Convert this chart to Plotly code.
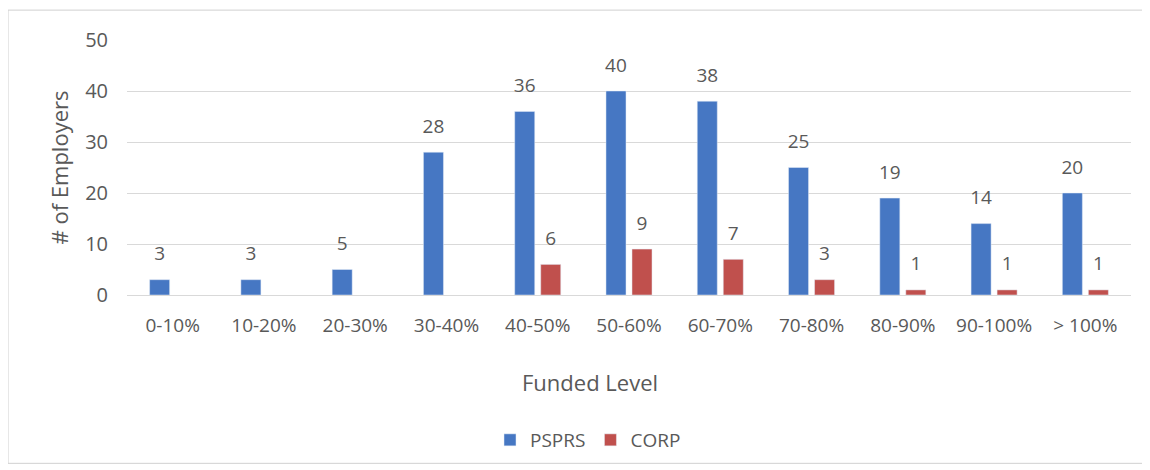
import plotly.graph_objects as go

categories = ["0-10%", "10-20%", "20-30%", "30-40%", "40-50%", "50-60%",
              "60-70%", "70-80%", "80-90%", "90-100%", "> 100%"]
psprs = [3, 3, 5, 28, 36, 40, 38, 25, 19, 14, 20]
corp = [None, None, None, None, 6, 9, 7, 3, 1, 1, 1]

FONT = "Open Sans"
GRAY = "#595959"
BLUE = "#4677C3"
RED = "#C0504D"

# page has an 8px body margin; figure is placed at (8, 8)
OFF = 8
W, H = 1150 - OFF, 470 - OFF
PL, PR, PT, PB = 127, 1131, 40, 296          # plot area in page pixels
L, R, T, B = PL - OFF, W - (PR - OFF), PT - OFF, H - (PB - OFF)
pw, ph = W - L - R, H - T - B


def px_x(x):
    return (x - OFF - L) / pw


def px_y(y):
    return (PB - y) / ph


BARGAP = 0.43

fig = go.Figure()
fig.add_trace(go.Bar(x=categories, y=psprs, name="PSPRS", marker_color=BLUE,
                     offsetgroup="a", hoverinfo="x+y"))
fig.add_trace(go.Bar(x=categories, y=corp, name="CORP", marker_color=RED,
                     offsetgroup="b", hoverinfo="x+y"))

for vals, grp in ((psprs, "a"), (corp, "b")):
    fig.add_trace(go.Scatter(
        x=categories, y=vals, mode="markers+text", offsetgroup=grp,
        text=["" if v is None else str(v) for v in vals],
        textposition="top center",
        textfont=dict(size=19, color=GRAY, family=FONT),
        marker=dict(size=22, color="rgba(0,0,0,0)"),
        showlegend=False, hoverinfo="skip", cliponaxis=False))

fig.update_layout(
    width=W, height=H,
    margin=dict(l=L, r=R, t=T, b=B),
    paper_bgcolor="white", plot_bgcolor="white",
    font=dict(family=FONT, color=GRAY, size=18),
    barmode="group", bargap=BARGAP, bargroupgap=0.23,
    scattermode="group", scattergap=BARGAP,
    showlegend=True,
    legend=dict(orientation="h", x=px_x(588), xanchor="center",
                y=px_y(440), yanchor="middle",
                font=dict(size=19, color=GRAY, family=FONT),
                tracegroupgap=0),
    xaxis=dict(showgrid=False, showline=False, ticks="",
               tickfont=dict(size=19, color=GRAY), ticklabelstandoff=17),
    yaxis=dict(range=[0, 50], dtick=10, showgrid=True, gridcolor="#d9d9d9",
               gridwidth=1, zeroline=True, zerolinecolor="#d9d9d9",
               zerolinewidth=1, showline=False, ticks="",
               tickfont=dict(size=20, color=GRAY), ticklabelstandoff=18,
               title=dict(text="# of Employers",
                          font=dict(size=22, color=GRAY), standoff=10)),
    annotations=[dict(text="Funded Level", x=px_x(590), y=px_y(383),
                      xref="paper", yref="paper", showarrow=False,
                      xanchor="center", yanchor="middle",
                      font=dict(size=22, color=GRAY, family=FONT))],
    shapes=[dict(type="rect", xref="paper", yref="paper",
                 x0=px_x(8), x1=px_x(1145), y0=px_y(465), y1=px_y(10),
                 line=dict(color="#d0d0d0", width=1),
                 fillcolor="rgba(0,0,0,0)", layer="below")],
)

fig.write_html("out.html")
